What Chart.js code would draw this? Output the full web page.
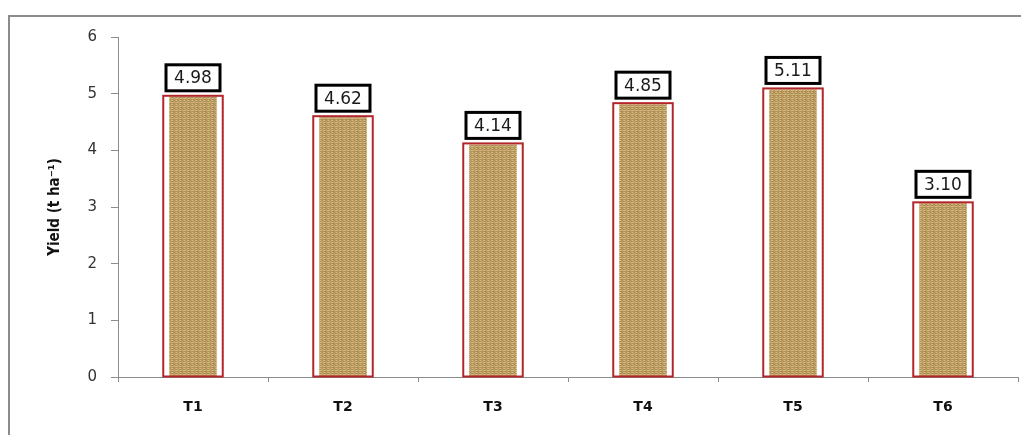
<!DOCTYPE html>
<html>
<head>
<meta charset="utf-8">
<script src="https://cdn.jsdelivr.net/npm/chart.js@4/dist/chart.umd.min.js"></script>
<style>
  body { margin: 0; background: #fff; overflow: hidden; }
  #wrap { position: relative; width: 1021px; height: 435px; }
  #frame { position: absolute; left: 8px; top: 15px; width: 1030px; height: 440px; border: 2px solid #8c8c8c; box-sizing: border-box; pointer-events: none; }
</style>
</head>
<body>
<div id="wrap">
  <canvas id="yieldChart" width="1021" height="435"></canvas>
  <div id="frame"></div>
</div>
<script>
const treatments = ['T1', 'T2', 'T3', 'T4', 'T5', 'T6'];
const yieldValues = [4.98, 4.62, 4.14, 4.85, 5.11, 3.10];
const yTicks = [0, 1, 2, 3, 4, 5, 6];

// small woven tile for the burlap look
function burlapPattern(ctx) {
  const c = document.createElement('canvas');
  c.width = 8; c.height = 4;
  const g = c.getContext('2d');
  const rows = [
    ['#d6bb81', '#c2a266', '#ae8e55', '#cfb277', '#dbc18a', '#bd9d60', '#a6874f', '#cbad71'],
    ['#a88a52', '#b99a5e', '#c6a76b', '#b08f55', '#9f8249', '#b59459', '#c2a367', '#ab8b52'],
    ['#d2b57a', '#dcc38c', '#bf9f63', '#c9ab70', '#d9bf86', '#cdb074', '#b8985c', '#d4b87c'],
    ['#bb9b5f', '#a68750', '#b39256', '#c0a065', '#ab8b53', '#9c7f47', '#c3a367', '#b08f55']
  ];
  rows.forEach((r, y) => r.forEach((col, x) => { g.fillStyle = col; g.fillRect(x, y, 1, 1); }));
  return ctx.createPattern(c, 'repeat');
}

const ctx = document.getElementById('yieldChart').getContext('2d');

const barDecor = {
  id: 'barDecor',
  afterDatasetsDraw(chart) {
    const c = chart.ctx;
    const meta = chart.getDatasetMeta(0);
    c.save();
    meta.data.forEach((bar, i) => {
      const half = bar.width / 2;
      // red outline
      c.strokeStyle = '#b3262b';
      c.lineWidth = 2;
      c.strokeRect(bar.x - half + 1, bar.y + 1, bar.width - 2, bar.base - bar.y - 1);
      // value box
      const txt = yieldValues[i].toFixed(2);
      const bw = 54, bh = 26;
      const by = bar.y - 4 - bh;
      c.fillStyle = '#fff';
      c.fillRect(bar.x - bw / 2, by, bw, bh);
      c.strokeStyle = '#000';
      c.lineWidth = 3;
      c.strokeRect(bar.x - bw / 2, by, bw, bh);
      c.fillStyle = '#1a1a1a';
      c.font = '17px "DejaVu Sans", Verdana, sans-serif';
      c.textAlign = 'center';
      c.textBaseline = 'middle';
      c.fillText(txt, bar.x, by + bh / 2 + 1);
    });
    c.restore();
  }
};

new Chart(ctx, {
  type: 'bar',
  data: {
    labels: treatments,
    datasets: [{
      data: yieldValues,
      backgroundColor: burlapPattern(ctx),
      borderColor: '#ffffff',
      borderWidth: { left: 7, right: 7, top: 2, bottom: 0 },
      borderSkipped: false,
      barPercentage: 0.41,
      categoryPercentage: 1
    }]
  },
  options: {
    responsive: false,
    animation: false,
    events: [],
    layout: { padding: { top: 37, right: 3, left: 0, bottom: 0 } },
    plugins: {
      legend: { display: false },
      tooltip: { enabled: false }
    },
    scales: {
      x: {
        afterFit(scale) { scale.height = 58; },
        grid: { drawOnChartArea: false, tickLength: 5, color: '#8c8c8c' },
        border: { color: '#8c8c8c' },
        ticks: {
          padding: 17,
          color: '#111',
          font: { family: '"DejaVu Sans", Verdana, sans-serif', size: 14, weight: 'bold' }
        }
      },
      y: {
        min: 0,
        max: 6,
        afterFit(scale) { scale.width = 118; },
        afterBuildTicks(scale) { scale.ticks = yTicks.map(v => ({ value: v })); },
        grid: { drawOnChartArea: false, tickLength: 7, color: '#8c8c8c' },
        border: { color: '#8c8c8c' },
        ticks: {
          padding: 14,
          color: '#333',
          font: { family: '"DejaVu Sans", Verdana, sans-serif', size: 15 }
        },
        title: {
          display: true,
          text: 'Yield (t ha⁻¹)',
          color: '#111',
          padding: { top: 46, bottom: 0 },
          font: { family: '"DejaVu Sans Condensed", "Liberation Sans Narrow", sans-serif', size: 15, weight: 'bold' }
        }
      }
    }
  },
  plugins: [barDecor]
});
</script>
</body>
</html>
